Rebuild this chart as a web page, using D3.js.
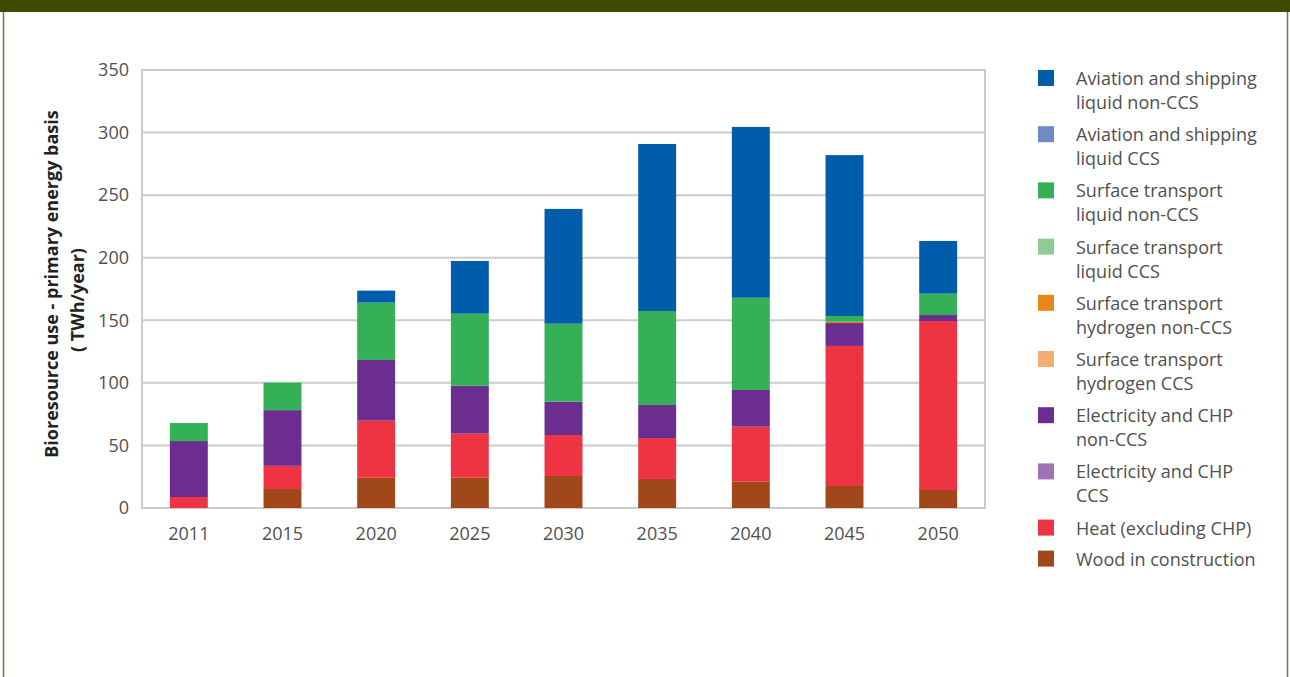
<!DOCTYPE html>
<html>
<head>
<meta charset="utf-8">
<script src="https://cdn.jsdelivr.net/npm/d3@7"></script>
<style>
  body { margin: 0; background: #fff; }
  svg text { font-family: "Open Sans", "Noto Sans", sans-serif; }
</style>
</head>
<body>
<div id="chart"></div>
<script>
// years on the x axis
var years = ["2011", "2015", "2020", "2025", "2030", "2035", "2040", "2045", "2050"]

// series, legend order (top to bottom)
var seriesNames = [
  "Aviation and shipping liquid non-CCS",
  "Aviation and shipping liquid CCS",
  "Surface transport liquid non-CCS",
  "Surface transport liquid CCS",
  "Surface transport hydrogen non-CCS",
  "Surface transport hydrogen CCS",
  "Electricity and CHP non-CCS",
  "Electricity and CHP CCS",
  "Heat (excluding CHP)",
  "Wood in construction"
]
var legendLines = [
  ["Aviation and shipping", "liquid non-CCS"],
  ["Aviation and shipping", "liquid CCS"],
  ["Surface transport", "liquid non-CCS"],
  ["Surface transport", "liquid CCS"],
  ["Surface transport", "hydrogen non-CCS"],
  ["Surface transport", "hydrogen CCS"],
  ["Electricity and CHP", "non-CCS"],
  ["Electricity and CHP", "CCS"],
  ["Heat (excluding CHP)"],
  ["Wood in construction"]
]
var colors = ["#005dab", "#6f8ac4", "#34b156", "#8fcc95", "#ec841c",
              "#f4ad72", "#6c2d91", "#9b76b3", "#ee3342", "#a0481a"]

// values in TWh/year, per year
var aviationNonCCS  = [0, 0, 9.6, 42.1, 91.7, 133.5, 136.5, 128.6, 42.1]
var aviationCCS     = [0, 0, 0, 0, 0, 0, 0, 0, 0]
var surfaceNonCCS   = [14.4, 22, 45.8, 57.6, 62.3, 75.1, 73.7, 4.6, 17.1]
var surfaceCCS      = [0, 0, 0, 0, 0, 0, 0, 0, 0]
var hydrogenNonCCS  = [0, 0, 0, 0, 0, 0, 0, 1.0, 0]
var hydrogenCCS     = [0, 0, 0, 0, 0, 0, 0, 0, 0]
var elecNonCCS      = [44.7, 44.5, 48.5, 38.3, 26.7, 26.4, 29.3, 18.3, 4.8]
var elecCCS         = [0, 0, 0, 0, 0, 0, 0, 0, 0]
var heat            = [8.8, 18.5, 45.6, 35.2, 32.7, 32.7, 44, 111.9, 135]
var wood            = [0, 15.2, 24.2, 24.2, 25.6, 23.2, 21, 17.6, 14.4]

var yTicks = [0, 50, 100, 150, 200, 250, 300, 350]

var seriesValues = [aviationNonCCS, aviationCCS, surfaceNonCCS, surfaceCCS,
  hydrogenNonCCS, hydrogenCCS, elecNonCCS, elecCCS, heat, wood]

var W = 1290, H = 677
var plot = {left: 142, right: 985, top: 70, bottom: 508}

var svg = d3.select("#chart").append("svg")
    .attr("width", W)
    .attr("height", H)

// header bar + frame
svg.append("rect").attr("x", 0).attr("y", 0).attr("width", W).attr("height", 12)
  .attr("fill", "#3d4a00")
svg.append("line").attr("x1", 3.5).attr("x2", 3.5).attr("y1", 12).attr("y2", H)
  .attr("stroke", "#6f7d3a").attr("stroke-width", 1.5)
svg.append("line").attr("x1", 1287.5).attr("x2", 1287.5).attr("y1", 12).attr("y2", H)
  .attr("stroke", "#6f7d3a").attr("stroke-width", 1.5)

// table for stacking
var table = years.map(function(y, i){
  var row = {year: y}
  seriesNames.forEach(function(s, j){ row[s] = seriesValues[j][i] })
  return row
})
var stackOrder = seriesNames.slice().reverse()   // wood at bottom
var stacked = d3.stack().keys(stackOrder)(table)

var x = d3.scaleBand().domain(years)
    .range([plot.left, plot.right])
    .paddingInner(0.595).paddingOuter(0.2975)
var y = d3.scaleLinear().domain([0, 350]).range([plot.bottom, plot.top])
var color = d3.scaleOrdinal().domain(seriesNames).range(colors)

// grid
svg.append("g").selectAll("line")
  .data(yTicks)
  .enter().append("line")
  .attr("x1", plot.left).attr("x2", plot.right)
  .attr("y1", function(d){ return y(d) }).attr("y2", function(d){ return y(d) })
  .attr("stroke", "#cccccc").attr("stroke-width", 2)
svg.append("rect")
  .attr("x", plot.left).attr("y", plot.top)
  .attr("width", plot.right - plot.left).attr("height", plot.bottom - plot.top)
  .attr("fill", "none").attr("stroke", "#cccccc").attr("stroke-width", 2)

// bars
svg.append("g").selectAll("g")
  .data(stacked)
  .enter().append("g")
  .attr("fill", function(d){ return color(d.key) })
  .selectAll("rect")
  .data(function(d){ return d })
  .enter().append("rect")
  .attr("x", function(d){ return x(d.data.year) })
  .attr("width", x.bandwidth())
  .attr("y", function(d){ return y(d[1]) })
  .attr("height", function(d){ return Math.max(0, y(d[0]) - y(d[1])) })

// axes
var yAxis = svg.append("g")
  .attr("transform", "translate(" + plot.left + ",0)")
  .call(d3.axisLeft(y).tickValues(yTicks).tickSize(0).tickPadding(13))
yAxis.select(".domain").remove()
yAxis.selectAll("text").attr("font-size", 18).attr("fill", "#505050")
  .attr("font-family", "Open Sans")

var xAxis = svg.append("g")
  .attr("transform", "translate(0," + plot.bottom + ")")
  .call(d3.axisBottom(x).tickSize(0).tickPadding(19))
xAxis.select(".domain").remove()
xAxis.selectAll("text").attr("font-size", 18).attr("fill", "#505050")
  .attr("font-family", "Open Sans")

// y title
svg.append("text")
  .attr("transform", "translate(58,284) rotate(-90)")
  .attr("text-anchor", "middle")
  .attr("font-size", 18).attr("font-weight", "bold").attr("fill", "#222")
  .text("Bioresource use - primary energy basis")
svg.append("text")
  .attr("transform", "translate(84,300) rotate(-90)")
  .attr("text-anchor", "middle")
  .attr("font-size", 18).attr("font-weight", "bold").attr("fill", "#222")
  .text("( TWh/year)")

// legend: two-line entries take more room than one-line ones
var legendY = []
var acc = 70
legendLines.forEach(function(l){ legendY.push(acc); acc += l.length > 1 ? 56.2 : 31 })

var legend = svg.append("g").selectAll("g")
  .data(seriesNames)
  .enter().append("g")
  .attr("transform", function(d, i){ return "translate(1038," + legendY[i] + ")" })
legend.append("rect")
  .attr("width", 16).attr("height", 16)
  .attr("fill", function(d){ return color(d) })
legend.append("text")
  .attr("x", 38).attr("y", 15)
  .attr("font-size", 18).attr("fill", "#505050")
  .selectAll("tspan")
  .data(function(d, i){ return legendLines[i] })
  .enter().append("tspan")
  .attr("x", 38)
  .attr("dy", function(d, i){ return i ? 24 : 0 })
  .text(function(d){ return d })
</script>
</body>
</html>
